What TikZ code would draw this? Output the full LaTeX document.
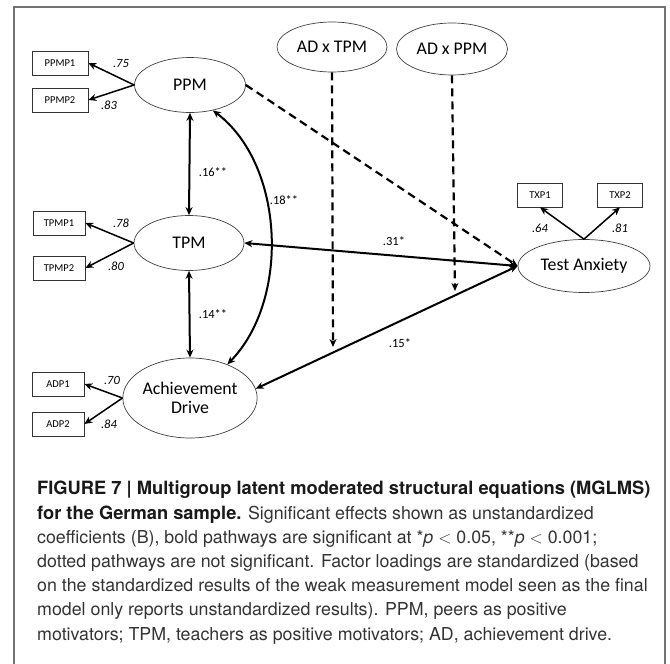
\documentclass[tikz,border=0pt]{standalone}
\usepackage{fontspec}
\setmainfont{Carlito}
\newfontfamily\capfont{TeX Gyre Heros}
\usetikzlibrary{arrows.meta,shapes.geometric}

\begin{document}
\begin{tikzpicture}[x=1pt, y=-1pt, >={Stealth[length=8pt,width=7pt]},
    lat/.style={draw=black!75, line width=0.7pt, ellipse, inner sep=0pt, font=\fontsize{17.8}{19.5}\selectfont},
    ind/.style={draw=black!80, line width=0.7pt, minimum width=56pt, minimum height=24pt, inner sep=0pt, font=\fontsize{10.5}{12}\selectfont},
    load/.style={->, line width=1.5pt},
    sig/.style={<->, line width=2pt},
    ns/.style={->, line width=2.2pt, dash pattern=on 8pt off 5pt},
    wt/.style={font=\itshape\fontsize{12.5}{14}\selectfont},
    coef/.style={font=\fontsize{12.5}{14}\selectfont}]
  \useasboundingbox (0,0) rectangle (670,664);
  \draw[black!55, line width=1.3pt] (14,664) -- (14,7) -- (665,7) -- (665,664);

  % latent variables
  \node[lat, minimum width=111pt, minimum height=55pt] (ppm) at (190,85) {PPM};
  \node[lat, minimum width=110pt, minimum height=55pt] (tpm) at (189,243) {TPM};
  \node[lat, minimum width=121pt, minimum height=80pt, align=center] (ad) at (190,398) {Achievement\\Drive};
  \node[lat, minimum width=110pt, minimum height=50pt] (adtpm) at (332,47) {AD x TPM};
  \node[lat, minimum width=111pt, minimum height=52pt] (adppm) at (452,49) {AD x PPM};
  \node[lat, minimum width=132pt, minimum height=53pt] (ta) at (584,266) {Test Anxiety};

  % indicators
  \node[ind] (ppmp1) at (60,63) {PPMP1};
  \node[ind] (ppmp2) at (60,100) {PPMP2};
  \node[ind, minimum width=52pt] (tpmp1) at (59,223) {TPMP1};
  \node[ind, minimum width=52pt] (tpmp2) at (59,268) {TPMP2};
  \node[ind, minimum width=52pt] (adp1) at (58,384) {ADP1};
  \node[ind, minimum width=52pt] (adp2) at (58,424) {ADP2};
  \node[ind, minimum width=45pt] (txp1) at (540,195) {TXP1};
  \node[ind, minimum width=45pt] (txp2) at (620,195) {TXP2};

  % loadings
  \draw[load] (ppm.west) -- (ppmp1.east);
  \draw[load] (ppm.west) -- (ppmp2.east);
  \draw[load] (tpm.west) -- (tpmp1.east);
  \draw[load] (tpm.west) -- (tpmp2.east);
  \draw[load] (ad.west) -- (adp1.east);
  \draw[load] (ad.west) -- (adp2.east);
  \draw[load] (ta.north) -- (txp1.south);
  \draw[load] (ta.north) -- (txp2.south);
  \node[wt] (w75) at (121,64) {.75};
  \node[wt] (w83) at (109,105) {.83};
  \node[wt] (w78) at (121,223) {.78};
  \node[wt] (w80) at (116,266) {.80};
  \node[wt] (w70) at (112,380) {.70};
  \node[wt] (w84) at (109,424) {.84};
  \node[wt] (w64) at (540,228) {.64};
  \node[wt] (w81) at (620,228) {.81};

  % structural paths
  \draw[sig] (ppm.-48) .. controls (285,165) and (290,300) .. (ad.42);
  \draw[sig] (ppm.south) -- (tpm.north);
  \draw[sig] (tpm.south) -- (ad.north);
  \draw[sig] (tpm.east) -- (ta.west);
  \draw[sig] (ad.8) -- (ta.west);
  \draw[ns] (ppm.east) -- (ta.west);
  \coordinate (m1) at (333,347);
  \coordinate (m2) at (455,291);
  \draw[ns] (adtpm.south) -- (m1);
  \draw[ns] (adppm.south) -- (m2);
  \node[coef] (c16) at (213,172) {.16**};
  \node[coef] (c18) at (284,200) {.18**};
  \node[coef] (c14) at (213,314) {.14**};
  \node[coef] (c31) at (394,241) {.31*};
  \node[coef] (c15) at (400,343) {.15*};

  % caption
  \node[anchor=north west, align=left, inner sep=0pt, text=black!80,
        font=\capfont\fontsize{17.8}{24.2}\selectfont] (cap) at (37,481)
    {{\fontsize{18.3}{24.2}\selectfont\bfseries\color{black!90}FIGURE 7 | Multigroup latent moderated structural equations (MGLMS)}\\
     {\fontsize{18.3}{24.2}\selectfont\bfseries\color{black!90}for the German sample.} Significant effects shown as unstandardized\\
     coefficients (B), bold pathways are significant at *\textit{p} $<$ 0.05, **\textit{p} $<$ 0.001;\\
     dotted pathways are not significant. Factor loadings are standardized (based\\
     on the standardized results of the weak measurement model seen as the final\\
     model only reports unstandardized results). PPM, peers as positive\\
     motivators; TPM, teachers as positive motivators; AD, achievement drive.};
\end{tikzpicture}
\end{document}
